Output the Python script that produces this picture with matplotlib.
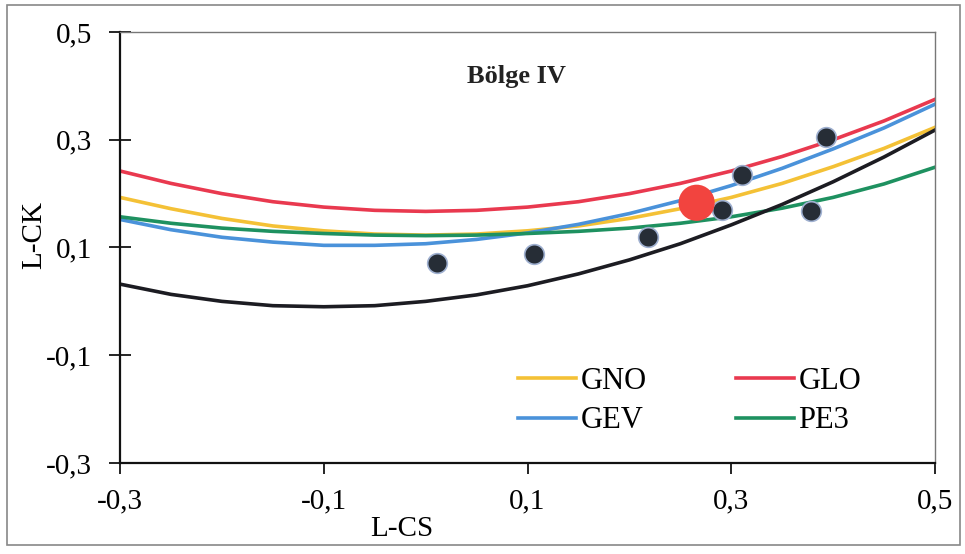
import matplotlib
matplotlib.use("Agg")
import matplotlib.pyplot as plt
from matplotlib.patches import Rectangle

plt.rcParams['font.family'] = ['Liberation Serif', 'DejaVu Serif']

# L-CS values along the theoretical curves
t3 = [-0.30, -0.25, -0.20, -0.15, -0.10, -0.05, 0.00, 0.05, 0.10,
      0.15, 0.20, 0.25, 0.30, 0.35, 0.40, 0.45, 0.50]

gno = [0.193, 0.172, 0.154, 0.140, 0.131, 0.125, 0.123, 0.125, 0.131,
       0.140, 0.154, 0.172, 0.193, 0.219, 0.250, 0.284, 0.323]
glo = [0.242, 0.219, 0.200, 0.185, 0.175, 0.169, 0.167, 0.169, 0.175,
       0.185, 0.200, 0.219, 0.242, 0.269, 0.300, 0.335, 0.375]
gev = [0.152, 0.133, 0.119, 0.110, 0.104, 0.104, 0.107, 0.115, 0.127,
       0.143, 0.163, 0.187, 0.215, 0.247, 0.283, 0.322, 0.366]
pe3 = [0.157, 0.145, 0.136, 0.130, 0.126, 0.123, 0.122, 0.123, 0.126,
       0.130, 0.136, 0.145, 0.157, 0.173, 0.193, 0.218, 0.249]
gpa = [0.032, 0.013, 0.000, -0.008, -0.010, -0.008, 0.000, 0.012, 0.029,
       0.051, 0.077, 0.107, 0.142, 0.180, 0.222, 0.268, 0.318]

# stations
st_cs = [0.011, 0.106, 0.218, 0.291, 0.311, 0.378, 0.393]
st_ck = [0.071, 0.088, 0.120, 0.170, 0.235, 0.168, 0.305]
# regional mean
reg_cs = [0.266]
reg_ck = [0.183]

fig = plt.figure(figsize=(9.65, 5.54), dpi=100)
ax = fig.add_axes([0.1244, 0.1643, 0.8445, 0.7779])

l_gno, = ax.plot(t3, gno, color='#f4c136', lw=2.6, label='GNO')
l_glo, = ax.plot(t3, glo, color='#e9394f', lw=2.6, label='GLO')
l_gev, = ax.plot(t3, gev, color='#4a92da', lw=2.6, label='GEV')
l_pe3, = ax.plot(t3, pe3, color='#1e9160', lw=2.6, label='PE3')
ax.plot(t3, gpa, color='#1c1c22', lw=2.6)

ax.scatter(st_cs, st_ck, s=200, color='#262d36', edgecolors='#9fb0d0',
           linewidths=1.2, zorder=5)
ax.scatter(reg_cs, reg_ck, s=680, color='#f2443f', edgecolors='none', zorder=6)

ax.set_xlim(-0.3, 0.5)
ax.set_ylim(-0.3, 0.5)
xt = [-0.3, -0.1, 0.1, 0.3, 0.5]
yt = [-0.3, -0.1, 0.1, 0.3, 0.5]
ax.set_xticks(xt)
ax.set_yticks(yt)
ax.set_xticklabels([('%.1f' % v).replace('.', ',') for v in xt], fontsize=21)
ax.set_yticklabels([('%.1f' % v).replace('.', ',') for v in yt], fontsize=21)
ax.tick_params(axis='x', direction='out', length=8, width=1.2, pad=10)
ax.tick_params(axis='y', direction='inout', length=16, width=1.2, pad=12)

for s in ['left', 'bottom']:
    ax.spines[s].set_linewidth(1.6)
    ax.spines[s].set_color('#111111')
for s in ['top', 'right']:
    ax.spines[s].set_linewidth(1.0)
    ax.spines[s].set_color('#777777')

fig.text(402 / 965, 1 - 529 / 554, 'L-CS', fontsize=21, ha='center', va='center')
fig.text(34 / 965, 1 - 235 / 554, 'L-CK', fontsize=21, ha='center', va='center',
         rotation=90)
fig.text(516 / 965, 1 - 77 / 554, 'Bölge IV', fontsize=19, fontweight='bold',
         ha='center', va='center', color='#222222')

# legend filled column-wise: GNO/GEV in the first column, GLO/PE3 in the second
ax.legend([l_gno, l_gev, l_glo, l_pe3], ['GNO', 'GEV', 'GLO', 'PE3'], ncol=2,
          loc='lower right', bbox_to_anchor=(0.943, 0.0), frameon=False,
          fontsize=22, handlelength=1.9, handletextpad=0.15, columnspacing=2.9,
          labelspacing=0.35)

fig.patches.append(Rectangle((7 / 965, 9 / 554), 953 / 965, 540 / 554,
                             transform=fig.transFigure, fill=False,
                             edgecolor='#888888', lw=1.2))

fig.savefig('out.png', dpi=100)
